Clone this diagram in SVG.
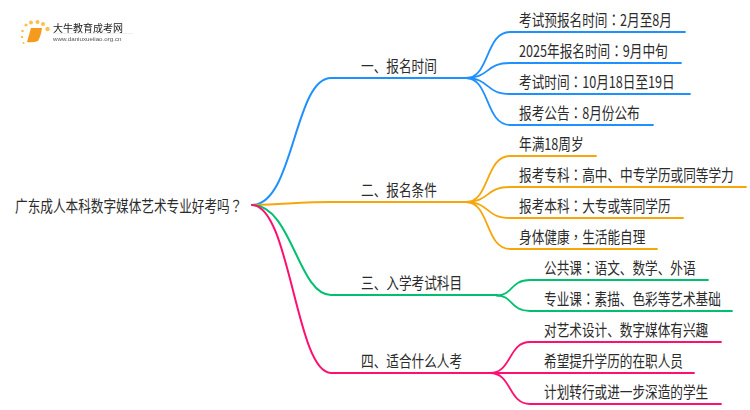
<svg xmlns="http://www.w3.org/2000/svg" width="750" height="410" viewBox="0 0 750 410">
<defs><filter id="soft" x="-5%" y="-20%" width="110%" height="140%"><feGaussianBlur stdDeviation="0.45"/></filter></defs>
<style>
text{font-family:"Noto Sans CJK SC","Noto Sans",sans-serif;font-size:16px;fill:#2b2b2b}
tspan{font-family:"Noto Sans CJK TC","Noto Sans",sans-serif}
.c{fill:none;stroke-linecap:round}
.b{stroke:#1e90ff}.o{stroke:#f7a60a}.g{stroke:#00c070}.p{stroke:#ff1070}
.m{stroke-width:2}.s{stroke-width:1.8}
</style>
<rect width="750" height="410" fill="#fff"/>
<g id="logo" filter="url(#soft)">
<circle cx="26" cy="25" r="1.600" fill="#fbc04a"/><circle cx="31" cy="22.500" r="2" fill="#fbc04a"/><circle cx="37.500" cy="22" r="2" fill="#fbc04a"/><circle cx="43" cy="24" r="2" fill="#fbc04a"/><circle cx="47.500" cy="29" r="2.200" fill="#fbc04a"/><circle cx="22.500" cy="31" r="1.300" fill="#fbc04a"/><circle cx="22" cy="37" r="1.200" fill="#fbc04a"/><circle cx="23.500" cy="43" r="1" fill="#fbc04a"/>
<path d="M31 28H42Q41 36 38 41Q33 43 27 42Q29 35 31 28Z" fill="#f59a1c"/>
<path d="M53 33.500H133" stroke="#e4e4e4" stroke-width="0.600"/>
<text x="53" y="32" style="font-size:10px;fill:#222">大牛教育成考网</text>
<text x="53" y="40.500" style="font-size:6.200px;fill:#555;font-family:'Liberation Sans',sans-serif">www.daniuxueiiao.org.cn</text>
</g>
<g id="connectors">
<path class="c b m" d="M252 205C294 205 294 78 331 78H466"/>
<path class="c o m" d="M252 205C285 204 305 202 331 202H466"/>
<path class="c g m" d="M252 205C292 205 298 295 331 295H497"/>
<path class="c p m" d="M252 205C290 205 296 373 331 373H490"/>
<path class="c b s" d="M466 78C490 78 485 32 510 32H685"/>
<path class="c b s" d="M466 78C490 78 485 63 510 63H681"/>
<path class="c b s" d="M466 78C490 78 485 94 510 94H690"/>
<path class="c b s" d="M466 78C490 78 485 125 510 125H653"/>
<path class="c o s" d="M466 202C490 202 485 156 510 156H596"/>
<path class="c o s" d="M466 202C490 202 485 187 510 187H746"/>
<path class="c o s" d="M466 202C490 202 485 218 510 218H683"/>
<path class="c o s" d="M466 202C490 202 485 249 510 249H657"/>
<path class="c g s" d="M497 295.500C513 295.500 510 280 530 280H708"/>
<path class="c g s" d="M497 295.500C513 295.500 510 311 530 311H732"/>
<path class="c p s" d="M490 373C512 373 508 342 530 342H721"/>
<path class="c p s" d="M490 373H694"/>
<path class="c p s" d="M490 373C512 373 508 404 530 404H721"/>
</g>
<g id="root"><text transform="translate(15 212) scale(.79 1)">广东成人本科数字媒体艺术专业好考吗<tspan>？</tspan></text></g>
<g id="n1"><text transform="translate(361 72) scale(.79 1)">一、报名时间</text></g>
<g id="n2"><text transform="translate(361 196) scale(.79 1)">二、报名条件</text></g>
<g id="n3"><text transform="translate(361 289) scale(.79 1)">三、入学考试科目</text></g>
<g id="n4"><text transform="translate(361 367) scale(.79 1)">四、适合什么人考</text></g>
<g id="n1-1"><text transform="translate(519 26) scale(.79 1)">考试预报名时间<tspan>：</tspan>2月至8月</text></g>
<g id="n1-2"><text transform="translate(519 57) scale(.79 1)">2025年报名时间<tspan>：</tspan>9月中旬</text></g>
<g id="n1-3"><text transform="translate(519 88) scale(.79 1)">考试时间<tspan>：</tspan>10月18日至19日</text></g>
<g id="n1-4"><text transform="translate(519 119) scale(.79 1)">报考公告<tspan>：</tspan>8月份公布</text></g>
<g id="n2-1"><text transform="translate(519 150) scale(.79 1)">年满18周岁</text></g>
<g id="n2-2"><text transform="translate(519 181) scale(.79 1)">报考专科<tspan>：</tspan>高中、中专学历或同等学力</text></g>
<g id="n2-3"><text transform="translate(519 212) scale(.79 1)">报考本科<tspan>：</tspan>大专或等同学历</text></g>
<g id="n2-4"><text transform="translate(519 243) scale(.79 1)">身体健康<tspan>，</tspan>生活能自理</text></g>
<g id="n3-1"><text transform="translate(544 274) scale(.79 1)">公共课<tspan>：</tspan>语文、数学、外语</text></g>
<g id="n3-2"><text transform="translate(544 305) scale(.79 1)">专业课<tspan>：</tspan>素描、色彩等艺术基础</text></g>
<g id="n4-1"><text transform="translate(544 336) scale(.79 1)">对艺术设计、数字媒体有兴趣</text></g>
<g id="n4-2"><text transform="translate(544 367) scale(.79 1)">希望提升学历的在职人员</text></g>
<g id="n4-3"><text transform="translate(544 398) scale(.79 1)">计划转行或进一步深造的学生</text></g>
</svg>
